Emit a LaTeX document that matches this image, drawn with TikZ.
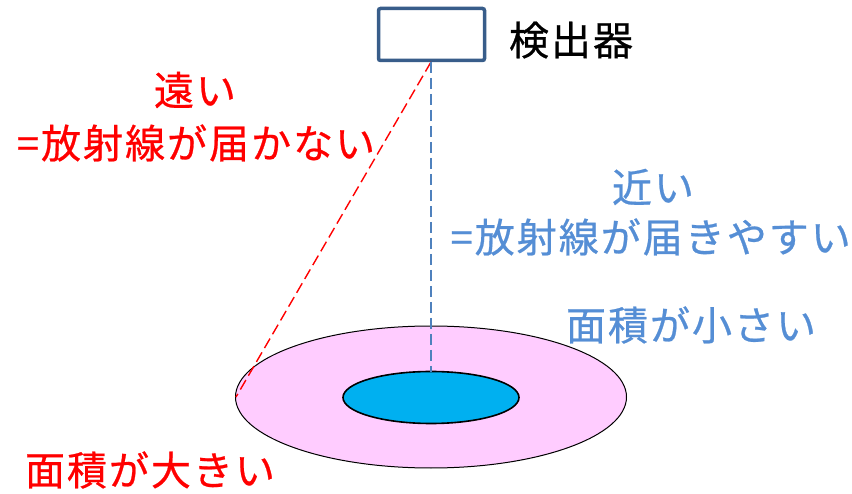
\documentclass[tikz,border=0pt]{standalone}
\usepackage{fontspec}
\newfontfamily\cjk[LetterSpace=5,FakeBold=0.6]{Noto Sans CJK JP}
\definecolor{redtxt}{HTML}{FF0000}
\definecolor{bluetxt}{HTML}{558ED5}
\definecolor{boxline}{HTML}{385D8A}
\definecolor{pinkfill}{HTML}{FFCCFF}
\definecolor{cyanfill}{HTML}{00B0F0}
\definecolor{blueline}{HTML}{4F81BD}
\begin{document}
\begin{tikzpicture}[x=1pt,y=-1pt,
  lbl/.style={font=\cjk\fontsize{40}{46}\selectfont, inner sep=0pt, align=center},
  ray/.style={line width=1.4pt, dash pattern=on 11pt off 5pt}]
\useasboundingbox (0,0) rectangle (852,494);
\fill[white] (0,0) rectangle (852,494);
% ellipses
\draw[fill=pinkfill, line width=1pt] (431,397) ellipse [x radius=195.5, y radius=71];
\draw[fill=cyanfill, line width=1.6pt] (431,397.5) ellipse [x radius=88, y radius=26];
\coordinate (top) at (431,62);
\coordinate (edge) at (236,397);
\coordinate (inner) at (431,372);
% detector
\node[draw=boxline, line width=3.5pt, rounded corners=2pt, minimum width=106pt, minimum height=52pt, fill=white] (det) at (431.5,34.5) {};
\draw[ray, redtxt] (top) -- (edge);
\draw[ray, blueline] (top) -- (inner);
% labels
\node[lbl] (l1) at (571,40) {検出器};
\node[lbl, text=redtxt] (l2) at (195,90) {遠い};
\node[lbl, text=redtxt] (l3) at (196,143) {=放射線が届かない};
\node[lbl, text=bluetxt] (l4) at (653,187) {近い};
\node[lbl, text=bluetxt, anchor=east] (l5) at (851,237) {=放射線が届きやすい};
\node[lbl, text=bluetxt] (l6) at (691,325) {面積が小さい};
\node[lbl, text=redtxt] (l7) at (150,470) {面積が大きい};
\end{tikzpicture}
\end{document}
